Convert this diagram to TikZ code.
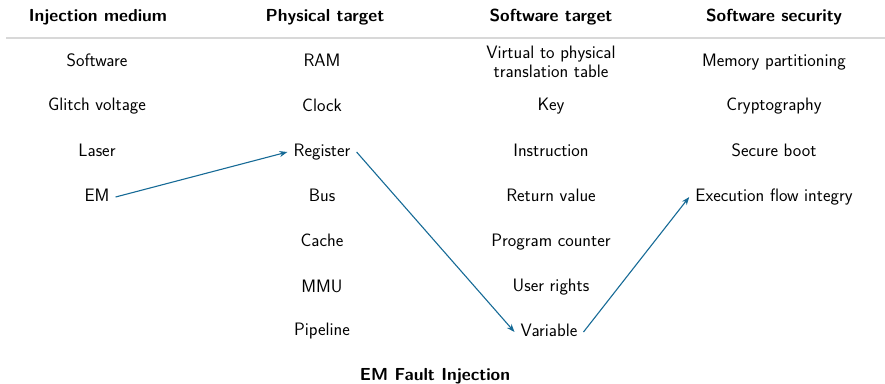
\documentclass[tikz,border=0pt]{standalone}
\usepackage{fontspec}
\usetikzlibrary{arrows.meta}
\definecolor{arrowblue}{RGB}{22,106,150}
\definecolor{rulegray}{RGB}{216,216,216}
\begin{document}
\begin{tikzpicture}[x=1pt,y=-1pt,
  every node/.style={font=\fontsize{18}{19}\selectfont\sffamily, inner sep=6pt,
    text height=13pt, text depth=4pt, anchor=center},
  head/.style={font=\fontsize{17.4}{19}\selectfont\sffamily\bfseries},
  twoline/.style={align=center, text height=, text depth=},
  link/.style={draw=arrowblue, line width=1.1pt,
    -{Stealth[length=8pt,width=6pt]}}]
\useasboundingbox (0,0) rectangle (885,383);

% column headers and rule
\node[head] (h1) at (98,17) {Injection medium};
\node[head] (h2) at (325,17) {Physical target};
\node[head] (h3) at (551,17) {Software target};
\node[head] (h4) at (774,17) {Software security};
\coordinate (rl) at (6,38);
\coordinate (rr) at (885,38);
\draw[rulegray, line width=1.5pt] (rl) -- (rr);

% injection medium
\node (m1) at (97,62) {Software};
\node (m2) at (97,106) {Glitch voltage};
\node (m3) at (97,152) {Laser};
\node (m4) at (97,197) {EM};

% physical target
\node (p1) at (322,62) {RAM};
\node (p2) at (322,107) {Clock};
\node (p3) at (322,152) {Register};
\node (p4) at (322,197) {Bus};
\node (p5) at (322,242) {Cache};
\node (p6) at (322,288) {MMU};
\node (p7) at (322,331) {Pipeline};

% software target
\node[twoline] (s1) at (551,62) {Virtual to physical\\translation table};
\node (s2) at (551,106) {Key};
\node (s3) at (551,152) {Instruction};
\node (s4) at (551,197) {Return value};
\node (s5) at (551,242) {Program counter};
\node (s6) at (551,287) {User rights};
\node (s7) at (549,332) {Variable};

% software security
\node (c1) at (774,62) {Memory partitioning};
\node (c2) at (774,106) {Cryptography};
\node (c3) at (774,152) {Secure boot};
\node (c4) at (774,197) {Execution flow integry};

% caption
\node[head] (cap) at (435,376) {EM Fault Injection};

% fault path
\draw[link] (m4.east) -- (p3.west);
\draw[link] (p3.east) -- (s7.west);
\draw[link] (s7.east) -- (c4.west);
\end{tikzpicture}
\end{document}
